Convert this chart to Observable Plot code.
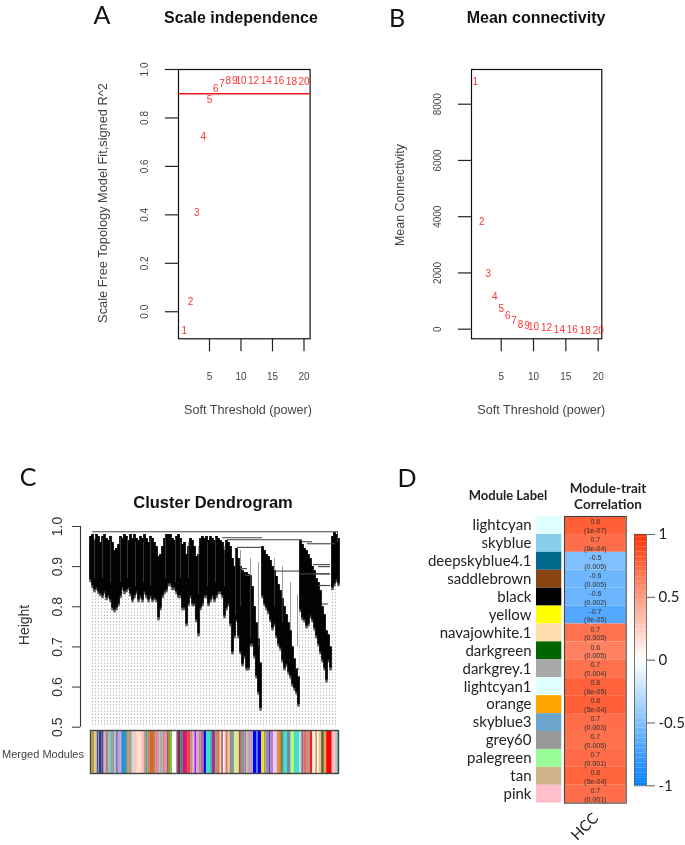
<!DOCTYPE html>
<html>
<head>
<meta charset="utf-8">
<script src="https://cdn.jsdelivr.net/npm/d3@7"></script>
<script src="https://cdn.jsdelivr.net/npm/@observablehq/plot@0.6"></script>
<style>
html,body{margin:0;padding:0;background:#fff}
#page{position:relative;width:685px;height:845px;overflow:hidden;background:#fff;filter:blur(.4px)}
#page>svg,#page>.p{position:absolute}
.t{position:absolute;white-space:nowrap;transform-origin:center center;line-height:1}
</style>
</head>
<body>
<div id="page"></div>
<script>
// Panels A and B
const powers = [1,2,3,4,5,6,7,8,9,10,12,14,16,18,20];
const scaleFit = [-0.08,0.04,0.41,0.723,0.873,0.921,0.94,0.953,0.953,0.955,0.953,0.953,0.955,0.95,0.95];
const meanK = [8807,3805,1970,1152,711,487,285,167,120,96,50,-10,-5,-57,-68];
// Panel C: leaf tops and bottoms in leaf order
const leafTop = [.975,.98,.965,.98,.975,.96,.975,.98,.97,.965,.975,.96,.94,.945,.955,.975,.97,.98,.975,.965,.98,.97,.98,.97,.965,.975,.97,.98,.97,.96,.975,.97,.96,.95,.925,.93,.95,.97,.98,.98,.98,.97,.965,.975,.98,.97,.955,.96,.93,.95,.97,.965,.95,.925,.93,.97,.975,.97,.975,.965,.975,.97,.965,.975,.97,.965,.96,.94,.965,.96,.95,.92,.90,.945,.92,.90,.89,.885,.885,.88,.875,.85,.80,.76,.72,.66,
 .95,.94,.93,.925,.915,.90,.89,.875,.855,.84,.82,.80,.78,.76,.74,.70,.67,.645,.625,
 .965,.955,.945,.94,.93,.92,.90,.89,.87,.86,.84,.80,.78,.74,.73,.70,
 .975,.985,.98,.97];
const leafBottom = [.86,.845,.835,.84,.83,.825,.82,.83,.815,.82,.81,.79,.785,.79,.80,.82,.84,.83,.835,.84,.825,.81,.82,.83,.81,.82,.81,.83,.82,.81,.82,.81,.815,.81,.765,.79,.82,.83,.835,.85,.85,.84,.84,.83,.82,.82,.79,.79,.75,.80,.82,.80,.80,.76,.725,.79,.80,.82,.82,.80,.81,.82,.81,.82,.83,.83,.82,.77,.79,.80,.75,.68,.72,.76,.72,.68,.65,.67,.64,.64,.70,.70,.67,.62,.58,.54,
 .82,.80,.79,.78,.76,.74,.75,.72,.70,.69,.66,.64,.65,.63,.62,.60,.59,.58,.55,
 .785,.765,.76,.745,.75,.77,.76,.74,.72,.70,.68,.66,.64,.61,.66,.64,
 .84,.85,.86,.85];
const mergeLeft  = [2,132,137,147,212,217,223,228,185,223,228,150,155,205,210,228,232];
const mergeRight = [247,172,212,172,222,245,240,240,210,240,240,157,162,209,240,235,238];
const mergeH     = [.987,.972,.967,.948,.962,.957,.905,.90,.889,.882,.853,.895,.878,.645,.882,.853,.807];
const stripeLeaf = [4,12,20,30,37,45,53,60,75,85,90,98,108,117,125,134,145,150,160,168,184,192,200,207];
const stripeTop  = [.97,.97,.96,.97,.97,.96,.96,.97,.97,.97,.96,.96,.95,.96,.97,.95,.94,.94,.92,.91,.92,.90,.86,.83];
const stripeEnd  = [.87,.87,.86,.86,.87,.85,.86,.85,.87,.86,.87,.87,.83,.85,.86,.85,.78,.80,.72,.70,.80,.76,.74,.70];
const moduleColors = ["#9370DB","#A8A832","#E8C070","#F090D0","#2E5E8E","#3CB371","#27408B","#6A3D9A","#8F8F8F","#DDA0DD","#A0703C","#8FBCD8","#CD853F","#40C8D8","#999999","#B0C4DE","#8470B8","#7B68C0","#C8A8D8","#1E90D8","#2F7F9F","#C8A060","#999999","#D2772F","#40E0D0","#D8C8D8","#FFC0CB","#FFE4C4","#FFB6C1","#B0A090","#3CB371","#DB7093","#D2691E","#888888","#F08080","#DB7093","#BC8F8F","#A0B0C0","#D2691E","#FF82AB","#2E8B57","#8B8B6B","#B8860B","#7CCD32","#FFFFFF","#A0A0A0","#8B2252","#2E8B8B","#E0107F","#F04030","#999999","#FFB6C1","#A020F0","#DDA0DD","#999999","#CC6688","#0000E0","#40E0D0","#20B2AA","#B03080",
 "#999999","#D2822D","#DDDDDD","#CC6688","#FFFFFF","#FFC0CB","#D87040","#E8C8A0","#909090","#D8E89A","#A05A2A","#909090","#C060E0","#98E070","#C89AC0","#FFFFFF","#0000F0","#4060F0","#0000F0","#FFE000","#B0A060","#9090C0","#6A3D9A","#B080D0","#FFC0FF","#E0C0F0","#D8922D","#8A6A3A","#2A7A7A","#40E0D0","#7A8A9A","#40E0D0","#E8FF20","#40E0D0","#E0D0B0","#8060A0","#E07050","#C09090","#F02020","#FFF0D0","#D2A060","#FFFFFF","#E8C090","#606020","#E0A070","#FF0000","#D00000","#E0C0C0","#F0B0C0","#80C8A0"];
const moduleWidths = [4,8,5,4,4,2,7,6,4,5,5,6,3,4,6,5,6,3,8,12,5,4,3,5,3,5,10,14,8,6,5,5,14,4,6,4,3,10,3,10,3,3,3,6,12,4,10,7,13,10,7,5,5,8,5,10,7,13,5,10,
 6,8,4,6,4,4,6,6,13,15,6,11,6,5,12,2,11,4,11,8,6,8,6,8,6,6,10,6,4,10,10,4,6,18,6,6,8,11,8,9,6,4,8,8,7,12,5,8,6,5];
// Panel D
const modules = ["lightcyan","skyblue","deepskyblue4.1","saddlebrown","black","yellow","navajowhite.1","darkgreen","darkgrey.1","lightcyan1","orange","skyblue3","grey60","palegreen","tan","pink"];
const swatches = ["#E0FFFF","#87CEEB","#00688B","#8B4513","#000000","#FFFF00","#FFDEAD","#006400","#A9A9A9","#E0FFFF","#FFA500","#6CA6CD","#999999","#98FB98","#D2B48C","#FFC0CB"];
const corr = [0.79,0.71,-0.5,-0.57,-0.58,-0.68,0.69,0.62,0.7,0.77,0.78,0.71,0.7,0.72,0.76,0.71];
const corrText = ["0.8","0.7","-0.5","-0.6","-0.6","-0.7","0.7","0.6","0.7","0.8","0.8","0.7","0.7","0.7","0.8","0.7"];
const pText = ["(1e-07)","(8e-04)","(0.005)","(0.005)","(0.002)","(9e-05)","(0.005)","(0.005)","(0.004)","(8e-05)","(5e-04)","(0.003)","(0.005)","(0.001)","(5e-04)","(0.001)"];
const colorStops = [-1,0,1];
const colorRange = ["#0080FF","#FFFFFF","#FF3300"];

const R = "'Liberation Sans',Arial,sans-serif", C = "Lato,'Open Sans',sans-serif";
const page = document.getElementById("page");
function put(plot,left,top){plot.style.position="absolute";plot.style.left=left+"px";plot.style.top=top+"px";page.append(plot);}
function label(text,cx,cy,o={}){
  const d=document.createElement("div");d.className="t";d.textContent=text;
  d.style.cssText+=`left:${cx}px;top:${cy}px;font:${o.weight||400} ${o.size||12}px ${o.font||R};color:${o.color||"#333"};transform:translate(-50%,-50%) rotate(${o.rot||0}deg);`+(o.ls?`letter-spacing:${o.ls}px;`:"");
  page.append(d);
}
const M={l:50,r:14,t:6,b:50};
function rPlot(box,xd,yd,xt,yt,vals){
  const rows=powers.map((p,i)=>({p,v:vals[i]}));
  const p=Plot.plot({width:box.w+M.l+M.r,height:box.h+M.t+M.b,marginLeft:M.l,marginRight:M.r,marginTop:M.t,marginBottom:M.b,
    style:{background:"transparent",overflow:"visible",fontFamily:R},
    x:{domain:xd,label:null},y:{domain:yd,label:null},
    marks:[
      Plot.frame({stroke:"#111",strokeWidth:1.2}),
      Plot.axisX({ticks:xt,tickSize:13,tickPadding:21,fontSize:10,color:"#444",stroke:"#222",strokeWidth:1.2,label:null,tickFormat:d=>String(d)}),
      Plot.axisY({ticks:yt,tickSize:13,tickPadding:18,fontSize:10,color:"#444",stroke:"#222",strokeWidth:1.2,tickRotate:-90,label:null,tickFormat:box.fmt}),
      ...(box.line?[Plot.ruleY([box.line],{stroke:"#F0141E",strokeWidth:1.4})]:[]),
      Plot.text(rows,{x:"p",y:"v",text:d=>String(d.p),fill:"#FF3333",fontSize:10})
    ]});
  put(p,box.x-M.l,box.y-M.t);
}
rPlot({x:177.7,y:69,w:131.6,h:269.3,line:0.9,fmt:d=>d.toFixed(1)},[0.08,20.97],[-0.1116,1],[5,10,15,20],[0,.2,.4,.6,.8,1],scaleFit);
rPlot({x:471,y:69,w:130.3,h:269.3,fmt:d=>String(d)},[0.407,20.56],[-341,9234],[5,10,15,20],[0,2000,4000,6000,8000],meanK);

// Panel C
const leaves = leafTop.map((t,i)=>({leaf:i*2,top:t,bottom:leafBottom[i]}));
const bottomAt = x=>leaves[Math.min(leaves.length-1,Math.round(x/2))].bottom;
const hangers = d3.range(2,248,3);
const dendro = Plot.plot({width:258+50+8,height:200.7+6+6,marginLeft:50,marginRight:8,marginTop:6,marginBottom:6,
  style:{background:"transparent",overflow:"visible",fontFamily:R},
  x:{domain:[-10,248],axis:null},y:{domain:[.5,1],label:null},
  marks:[
    Plot.ruleX(hangers,{x:d=>d,y1:.505,y2:d=>bottomAt(d),stroke:"#a8a8a8",strokeWidth:.9,strokeDasharray:"1.2 2"}),
    Plot.ruleX(leaves,{x:"leaf",y1:"top",y2:"bottom",stroke:"#555",strokeWidth:2.5}),
    Plot.ruleX(leaves,{x:"leaf",y1:"top",y2:d=>d.bottom+.007,stroke:"#000",strokeWidth:2.5}),
    Plot.ruleX(stripeLeaf.map((x,i)=>({x,a:stripeTop[i],b:stripeEnd[i]})),{x:"x",y1:"a",y2:"b",stroke:"#555",strokeWidth:.6}),
    Plot.ruleY(mergeH.map((h,i)=>({h,a:mergeLeft[i],b:mergeRight[i]})),{y:"h",x1:"a",x2:"b",stroke:"#444",strokeWidth:1.1}),
    Plot.ruleX([247],{y1:.987,y2:.96,stroke:"#444",strokeWidth:1}),
    Plot.ruleX([-10],{y1:.5,y2:1,stroke:"#333",strokeWidth:1.1}),
    Plot.axisY({ticks:[.5,.6,.7,.8,.9,1],tickSize:8,tickPadding:11,fontSize:14,color:"#333",stroke:"#333",tickRotate:-90,label:null,tickFormat:d=>d.toFixed(1)})
  ]});
put(dendro,80-50,526-6);

let acc=0;
const strip = moduleColors.map((c,i)=>{const s={c,a:acc,b:acc+moduleWidths[i]};acc=s.b;return s;});
const bar = Plot.plot({width:248,height:43,margin:0,style:{background:"transparent",overflow:"visible"},
  x:{domain:[0,acc],axis:null},y:{domain:[0,1],axis:null},
  marks:[Plot.rect(strip,{x1:"a",x2:"b",y1:0,y2:1,fill:"c"}),Plot.frame({stroke:"#444",strokeWidth:1.4})]});
put(bar,90,730);

// Panel D
const rows = modules.map((m,i)=>({m,col:swatches[i],r:corr[i],t:corrText[i],pv:pText[i]}));
const colorScale={type:"linear",domain:colorStops,range:colorRange,interpolate:"rgb"};
const sw = Plot.plot({width:25.3+112,height:286.7,marginLeft:112,marginRight:0,marginTop:0,marginBottom:0,
  style:{background:"transparent",overflow:"visible",fontFamily:C},
  y:{domain:modules,padding:0,round:false,label:null},
  marks:[Plot.cell(rows,{y:"m",fill:"col"}),
    Plot.axisY({tickSize:0,tickPadding:5,fontSize:15,color:"#222",label:null})]});
put(sw,535.7-112,516.3);
const heat = Plot.plot({width:61.7,height:286.7,margin:0,
  style:{background:"transparent",overflow:"visible",fontFamily:R},
  y:{domain:modules,padding:0,round:false,axis:null},color:colorScale,
  marks:[Plot.cell(rows,{y:"m",fill:"r"}),
    Plot.text(rows,{y:"m",frameAnchor:"middle",text:"t",dy:-3.6,fontSize:7,fill:"#333"}),
    Plot.text(rows,{y:"m",frameAnchor:"middle",text:"pv",dy:5.2,fontSize:7,fill:"#333"}),
    Plot.frame({stroke:"#444",strokeWidth:1.1})]});
put(heat,564.3,516.3);
const levels = d3.range(-1,1,.02);
const cbar = Plot.plot({width:12+40,height:251.3,marginLeft:0,marginRight:40,marginTop:0,marginBottom:0,
  style:{background:"transparent",overflow:"visible",fontFamily:C},
  y:{domain:[-1,1],label:null},color:colorScale,
  marks:[Plot.rect(levels,{y1:d=>d,y2:d=>d+.021,fill:d=>d+.01}),
    Plot.frame({stroke:"#555",strokeWidth:.8}),
    Plot.axisY({anchor:"right",ticks:[-1,-.5,0,.5,1],tickSize:8,tickPadding:4,fontSize:15,color:"#222",stroke:"#666",strokeWidth:1.1,label:null,tickFormat:d=>String(d)})]});
put(cbar,634,533.7);

// Text
label("A",102,13.5,{font:C,size:25,color:"#111"});
label("B",397,17,{font:C,size:25,color:"#111"});
label("C",28,476,{font:C,size:25,color:"#111"});
label("D",407,477,{font:C,size:25,color:"#111"});
label("Scale independence",241,17.5,{weight:700,size:16,color:"#111"});
label("Mean connectivity",536,17.5,{weight:700,size:16,color:"#111"});
label("Cluster Dendrogram",213,501.5,{weight:700,size:16.5,color:"#111"});
label("Scale Free Topology Model Fit,signed R^2",102.3,203,{size:12.8,rot:-90,color:"#444"});
label("Mean Connectivity",400,195.3,{size:12.4,rot:-90,color:"#444"});
label("Height",24,625,{size:14,rot:-90});
label("Soft Threshold (power)",248,409.5,{size:12.6,color:"#444"});
label("Soft Threshold (power)",541.3,409.5,{size:12.6,color:"#444"});
label("Merged Modules",43,753.5,{size:11,color:"#444"});
label("Module Label",508,495,{font:C,weight:700,size:13,color:"#222"});
label("Module-trait",608,487.7,{font:C,weight:700,size:13.5,color:"#222"});
label("Correlation",608,504.3,{font:C,weight:700,size:13.5,color:"#222"});
label("HCC",584,826,{font:C,size:15,rot:-45,color:"#222"});
</script>
</body>
</html>
